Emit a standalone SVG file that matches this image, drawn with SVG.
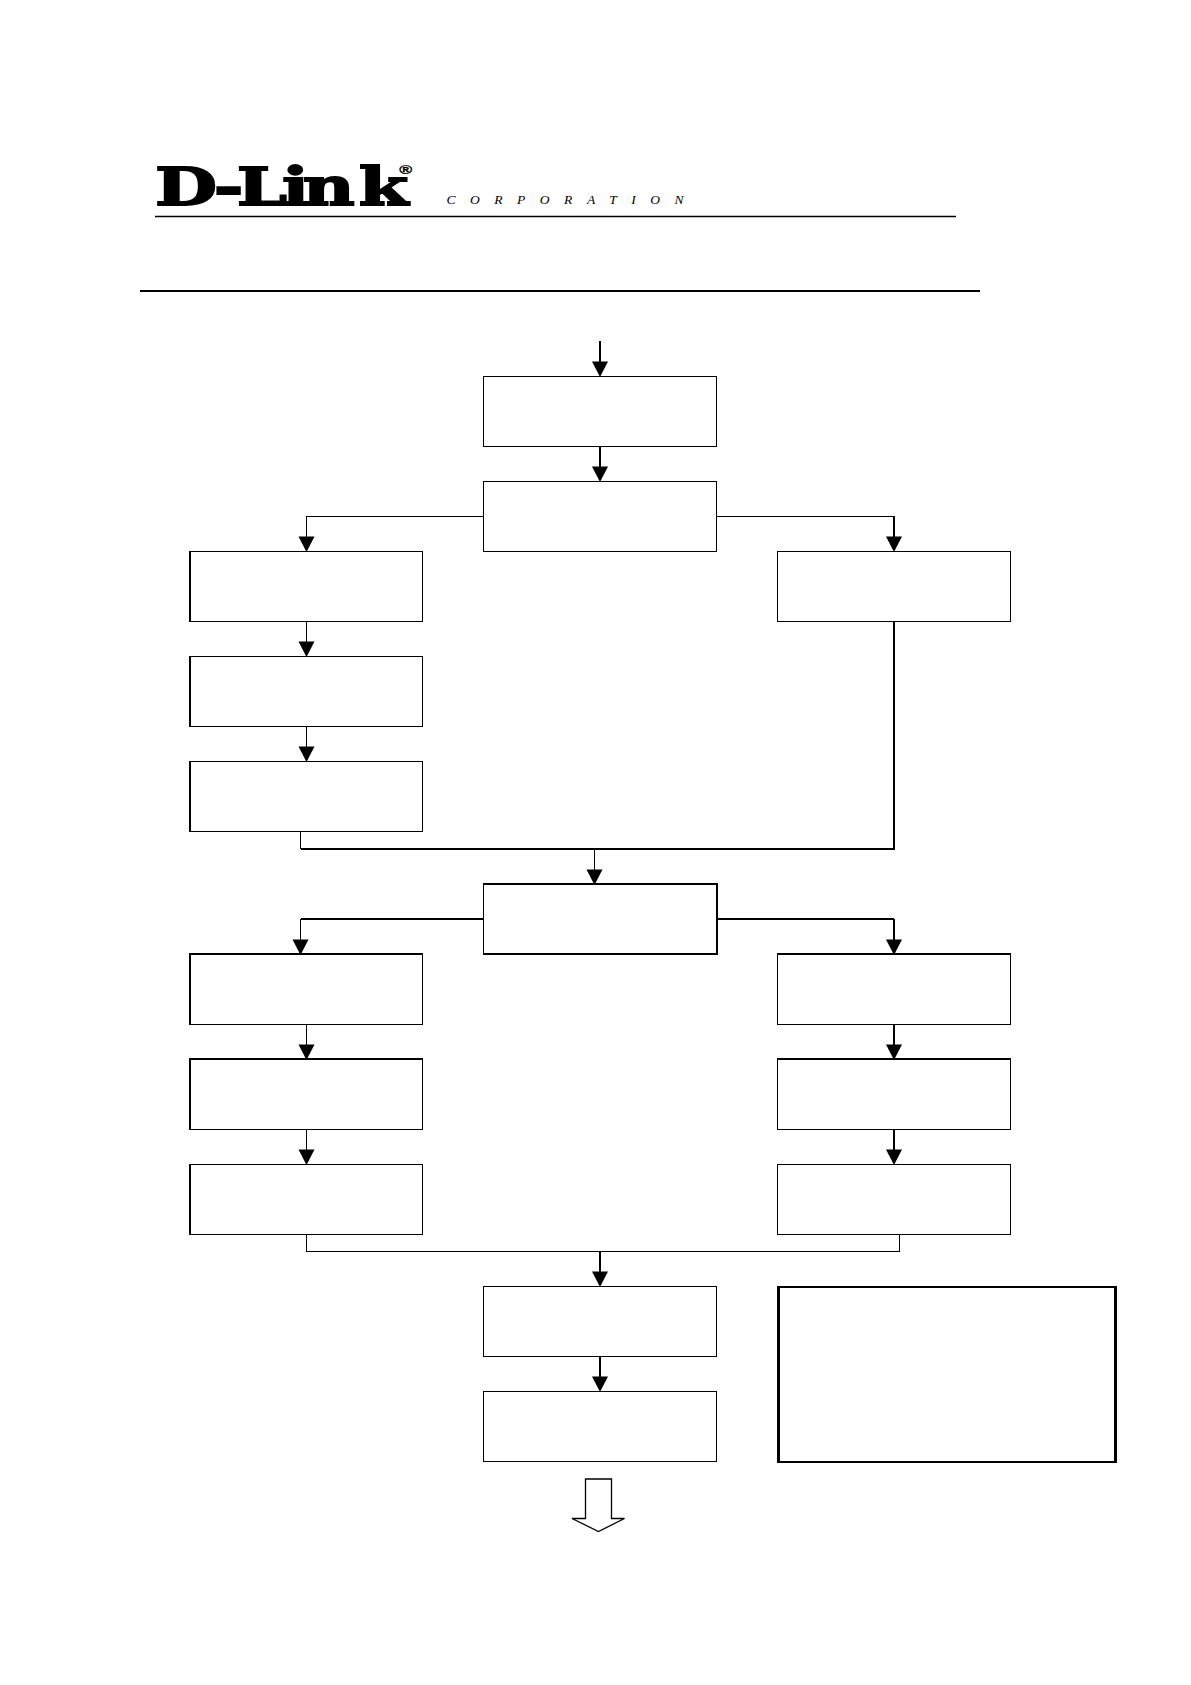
<svg xmlns="http://www.w3.org/2000/svg" width="1191" height="1685" viewBox="0 0 1191 1685">
<style>
.box{fill:#fff;stroke:#000;stroke-width:1.4;shape-rendering:crispEdges}
.c{fill:none;stroke:#000;stroke-width:1.4;shape-rendering:crispEdges}
.h{marker-end:url(#ah)}
.logo{font-family:"DejaVu Serif","Liberation Serif",serif;font-weight:bold;font-size:53px;fill:#000;stroke:#000;stroke-width:1.8}
.reg{font-family:"Liberation Sans",sans-serif;font-size:13px;stroke-width:.3}
</style>
<defs>
<marker id="ah" markerUnits="userSpaceOnUse" markerWidth="17" markerHeight="17" viewBox="0 0 17 17" refX="9" refY="8.500" orient="auto">
<path d="M0.500 0.500L16 8.500L0.500 16.500z" fill="#000"/>
</marker>
</defs>
<rect width="1191" height="1685" fill="#fff"/>
<g id="header">
<text class="logo" transform="translate(155 205) scale(1.35 1)"><tspan x="0 43.500 60.500 94 109.500 151" y="0">D-Link</tspan><tspan class="reg" x="181" y="-31">®</tspan></text>
<text x="446.500" y="204" font-family="Liberation Serif, serif" font-style="italic" font-size="13.500" fill="#000" textLength="237" lengthAdjust="spacing">CORPORATION</text>
<line x1="155" y1="216.500" x2="956" y2="216.500" stroke="#000" stroke-width="1.500"/>
<line class="c" x1="140" y1="291" x2="980" y2="291"/>
</g>
<g id="connectors">
<path class="c h" d="M600 341V370"/>
<path class="c h" d="M600 446V475"/>
<path class="c h" d="M483 516.500H306.500V545"/>
<path class="c" d="M717 516.500H894"/>
<path class="c h" d="M894 516V545"/>
<path class="c h" d="M306.500 621V650"/>
<path class="c h" d="M306.500 726V755"/>
<path class="c" d="M300.500 831V849"/>
<path class="c" d="M300.500 849H894V621"/>
<path class="c h" d="M594.500 849V878"/>
<path class="c" d="M483 919H300.500"/>
<path class="c h" d="M300.500 919V948"/>
<path class="c" d="M717 919H894"/>
<path class="c h" d="M894 919V948"/>
<path class="c h" d="M306.500 1024V1053"/>
<path class="c h" d="M306.500 1129V1158"/>
<path class="c h" d="M894 1024V1053"/>
<path class="c h" d="M894 1129V1158"/>
<path class="c" d="M306.500 1234V1251.500H899.500V1234"/>
<path class="c h" d="M600 1252V1280"/>
<path class="c h" d="M600 1356V1385"/>
</g>
<g id="n1"><rect class="box" x="483.500" y="376.500" width="233" height="70"/></g>
<g id="n2"><rect class="box" x="483.500" y="481.500" width="233" height="70"/></g>
<g id="n3"><rect class="box" x="190" y="551.500" width="232.500" height="70"/></g>
<g id="n4"><rect class="box" x="777.500" y="551.500" width="233" height="70"/></g>
<g id="n5"><rect class="box" x="190" y="656.500" width="232.500" height="70"/></g>
<g id="n6"><rect class="box" x="190" y="761.500" width="232.500" height="70"/></g>
<g id="n7"><rect class="box" x="483.500" y="884" width="233.500" height="70"/></g>
<g id="n8"><rect class="box" x="190" y="954" width="232.500" height="70.500"/></g>
<g id="n9"><rect class="box" x="777.500" y="954" width="233" height="70.500"/></g>
<g id="n10"><rect class="box" x="190" y="1059" width="232.500" height="70.500"/></g>
<g id="n11"><rect class="box" x="777.500" y="1059" width="233" height="70.500"/></g>
<g id="n12"><rect class="box" x="190" y="1164.500" width="232.500" height="70"/></g>
<g id="n13"><rect class="box" x="777.500" y="1164.500" width="233" height="70"/></g>
<g id="n14"><rect class="box" x="483.500" y="1286.500" width="233" height="70"/></g>
<g id="n15"><rect class="box" x="483.500" y="1391.500" width="233" height="70"/></g>
<g id="note"><rect x="778.500" y="1287" width="337" height="175" fill="#fff" stroke="#000" stroke-width="2.400" shape-rendering="crispEdges"/></g>
<g id="down-arrow"><path d="M585.500 1479H611.500V1518.500H624.500L598.500 1531.500L572 1518.500H585.500z" fill="#fff" stroke="#000" stroke-width="1.300"/></g>
</svg>
